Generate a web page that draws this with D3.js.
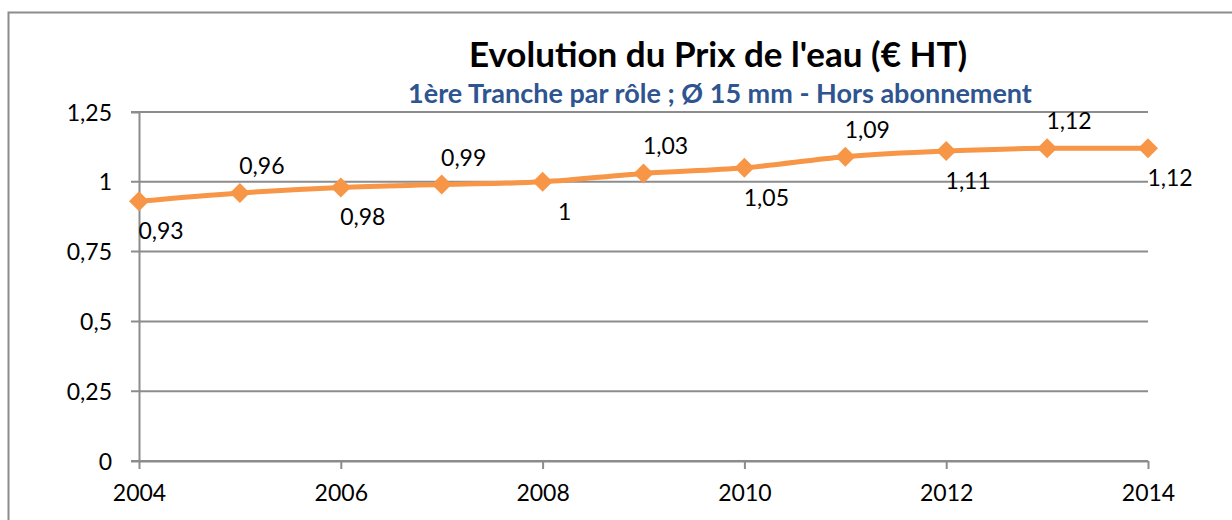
<!DOCTYPE html>
<html lang="fr">
<head>
<meta charset="UTF-8">
<title>Evolution du Prix de l'eau</title>
<script src="https://cdn.jsdelivr.net/npm/d3@7"></script>
<style>
  * { margin: 0; padding: 0; }
  body { background: #fff; }
  text { font-family: Lato, "Open Sans", sans-serif; }
</style>
</head>
<body>
<script>
  const years = [2004, 2005, 2006, 2007, 2008, 2009, 2010, 2011, 2012, 2013, 2014];
  const prices = [0.93, 0.96, 0.98, 0.99, 1, 1.03, 1.05, 1.09, 1.11, 1.12, 1.12];
  const yTicks = [0, 0.25, 0.5, 0.75, 1, 1.25];
  const xTicks = [2004, 2006, 2008, 2010, 2012, 2014];
  const title = "Evolution du Prix de l'eau (€ HT)";
  const subtitle = "1ère Tranche par rôle ; Ø 15 mm - Hors abonnement";

  const width = 1232, height = 520;
  const margin = { left: 139, right: 84, top: 112, bottom: 59 };
  const fmt = d => String(d).replace(".", ",");

  const svg = d3.select("body").append("svg").attr("width", width).attr("height", height);

  // chart frame
  svg.append("rect")
    .attr("x", 8.5).attr("y", 12.5)
    .attr("width", 1300).attr("height", 600)
    .attr("fill", "none").attr("stroke", "#8c8c8c").attr("stroke-width", 2);

  const x = d3.scaleLinear().domain([2004, 2014]).range([margin.left, width - margin.right]);
  const y = d3.scaleLinear().domain([0, 1.25]).range([height - margin.bottom, margin.top]);

  // gridlines
  svg.append("g")
    .selectAll("line")
    .data(yTicks)
    .join("line")
    .attr("x1", margin.left - 8).attr("x2", x(2014))
    .attr("y1", d => y(d)).attr("y2", d => y(d))
    .attr("stroke", "#8c8c8c").attr("stroke-width", 2);

  // y axis
  const yAxis = svg.append("g")
    .attr("transform", `translate(${margin.left},0)`)
    .call(d3.axisLeft(y).tickValues(yTicks).tickFormat(fmt).tickSize(8).tickPadding(19));
  yAxis.select(".domain").attr("stroke", "#8c8c8c").attr("stroke-width", 2);
  yAxis.selectAll(".tick line").remove();
  yAxis.selectAll("text").attr("font-size", 23).attr("fill", "#000").attr("dy", "0.35em");

  // x axis
  const xAxis = svg.append("g")
    .attr("transform", `translate(0,${y(0)})`)
    .call(d3.axisBottom(x).tickValues(xTicks).tickFormat(d3.format("d")).tickSizeInner(8).tickSizeOuter(0).tickPadding(16));
  xAxis.select(".domain").attr("stroke", "#8c8c8c").attr("stroke-width", 2);
  xAxis.selectAll(".tick line").attr("stroke", "#8c8c8c").attr("stroke-width", 2);
  xAxis.selectAll("text").attr("font-size", 23).attr("fill", "#000");

  // line
  const line = d3.line()
    .x((d, i) => x(years[i]))
    .y(d => y(d))
    .curve(d3.curveMonotoneX);

  svg.append("path")
    .datum(prices)
    .attr("d", line)
    .attr("fill", "none")
    .attr("stroke", "#f79646")
    .attr("stroke-width", 5)
    .attr("stroke-linejoin", "round");

  // diamond markers
  svg.append("g")
    .selectAll("path")
    .data(prices)
    .join("path")
    .attr("d", d3.symbol(d3.symbolSquare, 200)())
    .attr("transform", (d, i) => `translate(${x(years[i])},${y(d)}) rotate(45)`)
    .attr("fill", "#f79646");

  // data labels, alternating below / above
  svg.append("g")
    .selectAll("text")
    .data(prices)
    .join("text")
    .attr("x", (d, i) => x(years[i]) + 22)
    .attr("y", (d, i) => y(d) + (i % 2 === 0 ? 30 : -27))
    .attr("dy", "0.35em")
    .attr("text-anchor", "middle")
    .attr("font-size", 23)
    .attr("fill", "#000")
    .text(fmt);

  // titles
  svg.append("text")
    .attr("x", 718).attr("y", 67)
    .attr("text-anchor", "middle")
    .attr("font-size", 35).attr("font-weight", "bold")
    .text(title);

  svg.append("text")
    .attr("x", 720).attr("y", 103)
    .attr("text-anchor", "middle")
    .attr("font-size", 27).attr("font-weight", "bold")
    .attr("fill", "#2e5590")
    .text(subtitle);
</script>
</body>
</html>
